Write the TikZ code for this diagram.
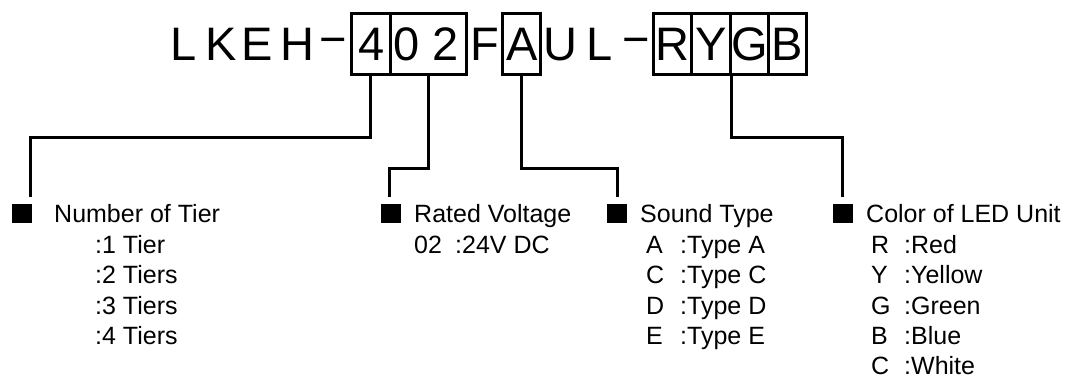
\documentclass[tikz,border=0pt]{standalone}
\usepackage{fontspec}
\setmainfont{Liberation Sans}
\begin{document}
\begin{tikzpicture}[x=1pt,y=-1pt,
  big/.style={font=\fontsize{47}{47}\selectfont, inner sep=0pt, anchor=base},
  cell/.style={draw, line width=3pt, minimum height=61pt, inner sep=0pt},
  conn/.style={draw, line width=3pt},
  bul/.style={fill=black, minimum width=20pt, minimum height=19pt, inner sep=0pt},
  txt/.style={font=\fontsize{25}{25}\selectfont, inner sep=0pt, anchor=base west}]
\useasboundingbox (0,0) rectangle (1078,378);
% code boxes
\node[cell, minimum width=38.3pt] (c4)  at (370.85,43.5) {};
\node[cell, minimum width=76pt]   (c02) at (428,43.5) {};
\node[cell, minimum width=38pt]   (cA)  at (521,43.5) {};
\node[cell, minimum width=38.7pt] (cR)  at (672.35,43.5) {};
\node[cell, minimum width=38.3pt] (cY)  at (710.85,43.5) {};
\node[cell, minimum width=38pt]   (cG)  at (749,43.5) {};
\node[cell, minimum width=38pt]   (cB)  at (787,43.5) {};
% code letters
\node[big] (l1) at (184,60) {L};
\node[big] (l2) at (221.5,60) {K};
\node[big] (l3) at (257.5,60) {E};
\node[big] (l4) at (297,60) {H};
\node[big] (d1) at (333.5,55) {−};
\node[big] (l5) at (371.7,60) {4};
\node[big] (l6) at (407,60) {0};
\node[big] (l7) at (446,60) {2};
\node[big] (l8) at (484.5,60) {F};
\node[big] (l9) at (522.5,60) {A};
\node[big] (l10) at (560,60) {U};
\node[big] (l11) at (600,60) {L};
\node[big] (d2) at (636,55) {−};
\node[big] (l12) at (672.3,60) {R};
\node[big] (l13) at (711,60) {Y};
\node[big] (l14) at (749.5,60) {G};
\node[big] (l15) at (787.5,60) {B};
% bullets
\node[bul] (b1) at (22,213.5) {};
\node[bul] (b2) at (391,213.5) {};
\node[bul] (b3) at (617,213.5) {};
\node[bul] (b4) at (843,213.5) {};
% connector ends
\coordinate (e1) at (30.5,197);
\coordinate (e2) at (389.5,197);
\coordinate (e3) at (617,197);
\coordinate (e4) at (842.5,197);
\draw[conn] (c4.south) -- ++(0,62) -| (e1);
\draw[conn] (c02.south) -- ++(0,93) -| (e2);
\draw[conn] (cA.south) -- ++(0,93) -| (e3);
\draw[conn] (cY.south east) -- ++(0,62) -| (e4);
% Number of Tier
\node[txt] (t1) at (54,222) {Number of Tier};
\node[txt] (t1a) at (95,253) {:1 Tier};
\node[txt] (t1b) at (95,283.5) {:2 Tiers};
\node[txt] (t1c) at (95,314) {:3 Tiers};
\node[txt] (t1d) at (95,344.5) {:4 Tiers};
% Rated Voltage
\node[txt] (t2) at (414,222) {Rated Voltage};
\node[txt] (t2a) at (414,253) {02};
\node[txt] (t2b) at (455,253) {:24V DC};
% Sound Type
\node[txt] (t3) at (640,222) {Sound Type};
\node[txt] (s1) at (646,253) {A};
\node[txt] (s1t) at (680,253) {:Type A};
\node[txt] (s2) at (646,283.5) {C};
\node[txt] (s2t) at (680,283.5) {:Type C};
\node[txt] (s3) at (646,314) {D};
\node[txt] (s3t) at (680,314) {:Type D};
\node[txt] (s4) at (646,344.5) {E};
\node[txt] (s4t) at (680,344.5) {:Type E};
% Color of LED Unit
\node[txt] (t4) at (866,222) {Color of LED Unit};
\node[txt] (k1) at (871,253) {R};
\node[txt] (k1t) at (904,253) {:Red};
\node[txt] (k2) at (871,283.5) {Y};
\node[txt] (k2t) at (904,283.5) {:Yellow};
\node[txt] (k3) at (871,314) {G};
\node[txt] (k3t) at (904,314) {:Green};
\node[txt] (k4) at (871,344.5) {B};
\node[txt] (k4t) at (904,344.5) {:Blue};
\node[txt] (k5) at (871,374.5) {C};
\node[txt] (k5t) at (904,374.5) {:White};
\end{tikzpicture}
\end{document}
